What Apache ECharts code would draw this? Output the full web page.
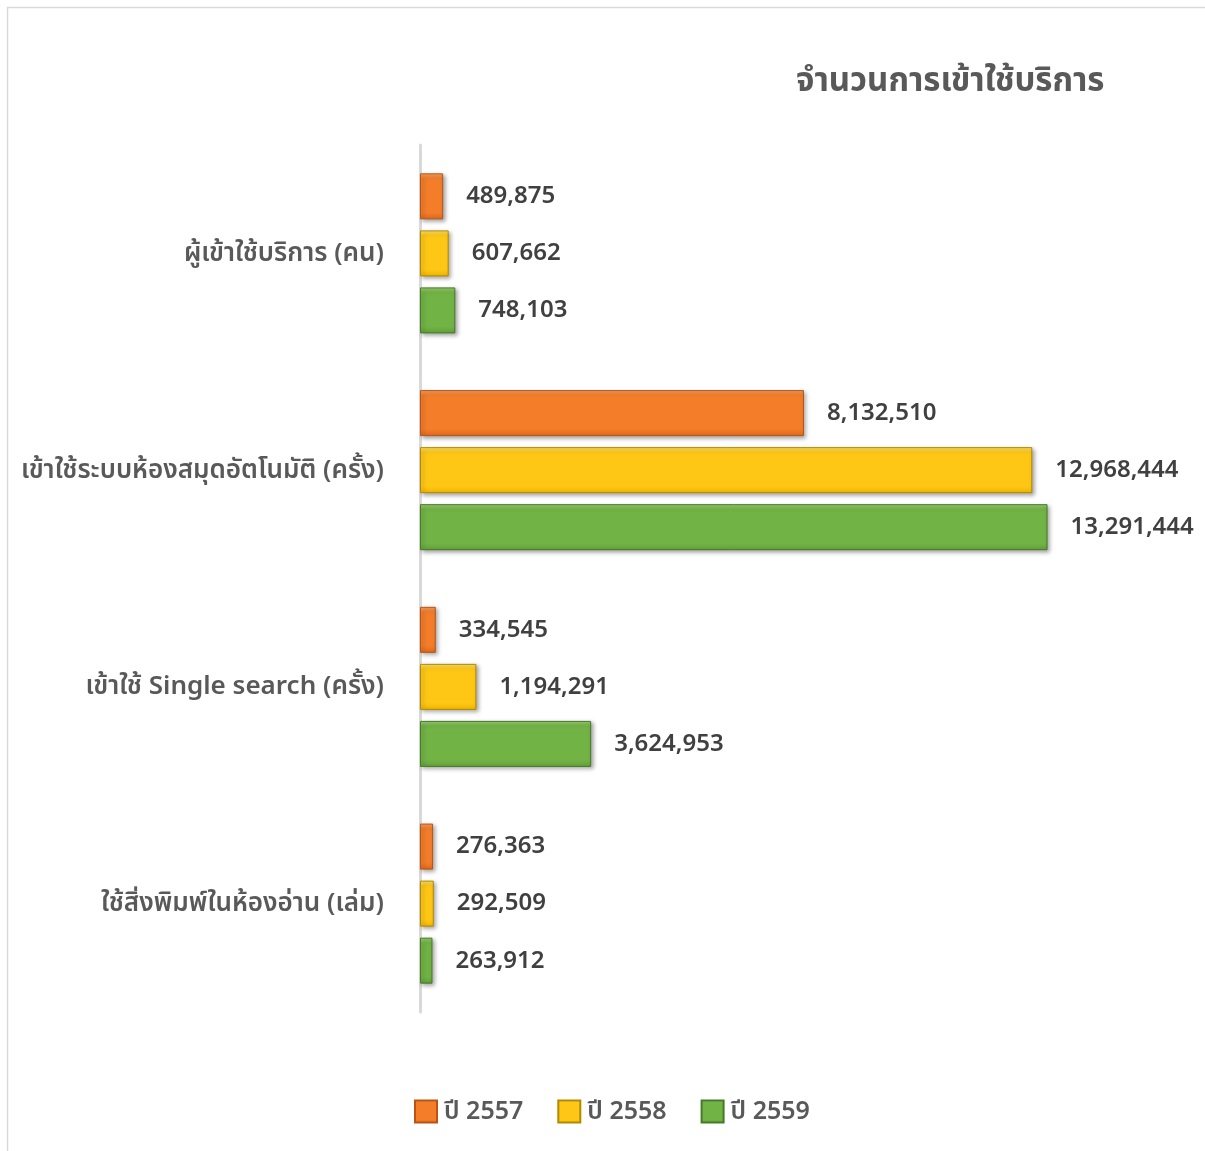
<!DOCTYPE html>
<html>
<head>
<meta charset="utf-8">
<script src="https://cdn.jsdelivr.net/npm/echarts@6/dist/echarts.min.js"></script>
<style>
html,body{margin:0;padding:0;background:#fff;}
#chart{width:1205px;height:1151px;}
</style>
</head>
<body>
<div id="chart"></div>
<script>
const categories = ['ผู้เข้าใช้บริการ (คน)', 'เข้าใช้ระบบห้องสมุดอัตโนมัติ (ครั้ง)', 'เข้าใช้ Single search (ครั้ง)', 'ใช้สิ่งพิมพ์ในห้องอ่าน (เล่ม)'];
const seriesNames = ['ปี 2557', 'ปี 2558', 'ปี 2559'];
const values2557 = [489875, 8132510, 334545, 276363];
const values2558 = [607662, 12968444, 1194291, 292509];
const values2559 = [748103, 13291444, 3624953, 263912];
const titleText = 'จำนวนการเข้าใช้บริการ';

const palettes = [
  {top: '#F9A25E', mid: '#F47D2A', bot: '#E0691A', border: '#B85515'},
  {top: '#FFE36A', mid: '#FFC715', bot: '#F0B800', border: '#B08A00'},
  {top: '#9BCF70', mid: '#72B345', bot: '#62A13A', border: '#477A28'}
];
const FONT = '"Noto Sans", "Noto Sans Thai", sans-serif';

function grad(p){
  return new echarts.graphic.LinearGradient(0,0,0,1,[
    {offset:0, color:p.top},
    {offset:0.12, color:p.mid},
    {offset:0.85, color:p.mid},
    {offset:1, color:p.bot}
  ]);
}

const dataSets = [values2557, values2558, values2559];
const chart = echarts.init(document.getElementById('chart'), null, {renderer:'canvas'});
chart.setOption({
  backgroundColor:'#ffffff',
  animation:false,
  title:{
    text:titleText, left:791, top:60,
    textStyle:{fontFamily:FONT, fontSize:33, fontWeight:'bold', color:'#595959'}
  },
  graphic:[{
    type:'rect', shape:{x:7.5, y:7.5, width:1400, height:1400},
    style:{fill:'none', stroke:'#d9d9d9', lineWidth:1.5}, silent:true
  }],
  legend:{
    data:seriesNames, left:409, top:1094, itemWidth:22, itemHeight:22, itemGap:34, icon:'rect',
    textStyle:{fontFamily:FONT, fontSize:25, fontWeight:600, color:'#595959', padding:[0,0,0,2]}
  },
  grid:{left:420, top:145, width:661, height:867, containLabel:false},
  xAxis:{
    type:'value', min:0, max:14000000, show:false
  },
  yAxis:{
    type:'category', data:categories, inverse:true,
    axisLine:{show:true, lineStyle:{color:'#d9d9d9', width:3}},
    axisTick:{show:false},
    axisLabel:{fontFamily:FONT, fontSize:26, fontWeight:600, color:'#595959', margin:36}
  },
  series: dataSets.map((d,i)=>({
    name:seriesNames[i], type:'bar', data:d,
    barWidth:46, barGap:'24%', barCategoryGap:'26%',
    itemStyle:{
      color:grad(palettes[i]), borderColor:palettes[i].border, borderWidth:1,
      shadowColor:'rgba(0,0,0,0.35)', shadowBlur:4, shadowOffsetX:2, shadowOffsetY:2
    },
    label:{
      show:true, position:'right', distance:23,
      fontFamily:FONT, fontSize:24, fontWeight:600, color:'#404040',
      formatter:(p)=>p.value.toLocaleString('en-US')
    }
  }))
});
</script>
</body>
</html>
